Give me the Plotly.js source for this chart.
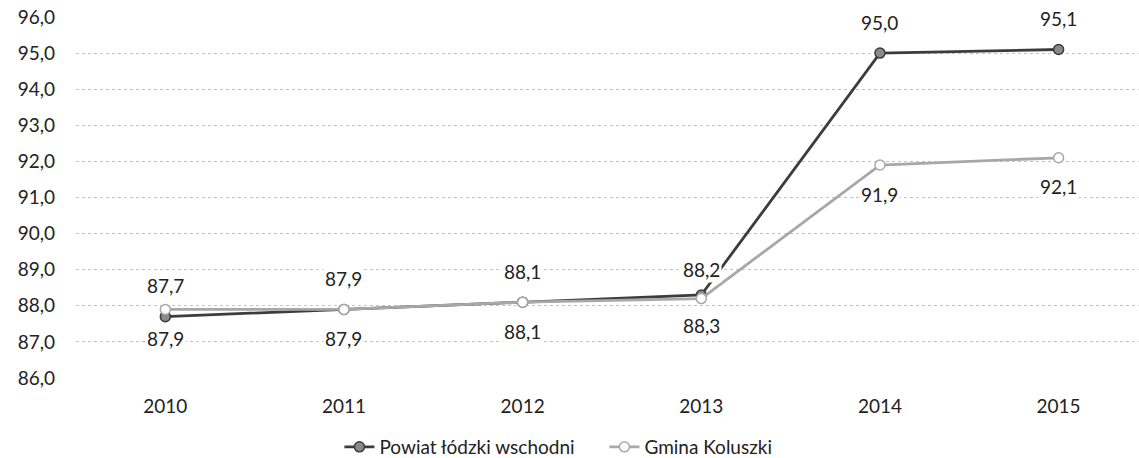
<!DOCTYPE html>
<html>
<head>
<meta charset="utf-8">
<script src="https://cdn.plot.ly/plotly-3.0.1.min.js"></script>
<style>
  html, body { margin: 0; padding: 0; background: #fff; }
  #chart { width: 1139px; height: 458px; }
</style>
</head>
<body>
<div id="chart"></div>
<script>
// Dane
const years = ['2010', '2011', '2012', '2013', '2014', '2015'];
const powiat = [87.7, 87.9, 88.1, 88.3, 95.0, 95.1];
const gmina = [87.9, 87.9, 88.1, 88.2, 91.9, 92.1];
// położenie etykiet: +1 nad punktem, -1 pod punktem
const powiatLabelSide = [1, 1, 1, -1, 1, 1];
const gminaLabelSide = [-1, -1, -1, 1, -1, -1];

const FONT = 'Lato, "Open Sans", sans-serif';
const DARK = '#3c3c3c';
const LIGHT = '#a8a8a8';

const fmt = (v) => v.toFixed(1).replace('.', ',');

const traces = [
  {
    x: years, y: powiat, mode: 'lines+markers', name: 'Powiat łódzki wschodni',
    line: { color: DARK, width: 2.8 },
    marker: { symbol: 'circle', size: 10, color: '#8a8a8a', line: { color: DARK, width: 1.5 } },
  },
  {
    x: years, y: gmina, mode: 'lines+markers', name: 'Gmina Koluszki',
    line: { color: LIGHT, width: 2.8 },
    marker: { symbol: 'circle', size: 10, color: '#ffffff', line: { color: LIGHT, width: 1.5 } },
  },
];

// etykiety danych jako adnotacje (x = indeks kategorii na osi)
const labels = [];
years.forEach((yr, i) => {
  labels.push({ x: i, y: powiat[i], text: fmt(powiat[i]), yshift: 31 * powiatLabelSide[i] });
  labels.push({ x: i, y: gmina[i], text: fmt(gmina[i]), yshift: 29 * gminaLabelSide[i] });
});
labels.forEach((a) => {
  a.xref = 'x'; a.yref = 'y'; a.showarrow = false;
  a.font = { family: FONT, size: 19, color: '#222' };
  a.bgcolor = '#fff';
});

const layout = {
  width: 1139, height: 458,
  margin: { l: 76, r: 0, t: 17, b: 80 },
  paper_bgcolor: '#fff', plot_bgcolor: '#fff',
  font: { family: FONT, size: 19, color: '#222' },
  separators: ', ',
  xaxis: {
    type: 'category', range: [-0.5, 5.45],
    showgrid: false, zeroline: false, showline: false, ticks: '',
    ticklabelstandoff: 15,
    tickfont: { family: FONT, size: 19, color: '#222' },
  },
  yaxis: {
    range: [86, 96], dtick: 1, tick0: 86, tickformat: '.1f',
    showgrid: true, gridcolor: '#c4c4c4', griddash: 'dot', gridwidth: 1,
    zeroline: false, showline: false, ticks: '',
    ticklabelstandoff: 20,
    tickfont: { family: FONT, size: 19, color: '#222' },
  },
  showlegend: true,
  legend: {
    orientation: 'h', xref: 'container', yref: 'container',
    x: 0.298, xanchor: 'left', y: 0.024, yanchor: 'middle',
    font: { family: FONT, size: 19, color: '#222' },
    entrywidth: 220, entrywidthmode: 'pixels',
    tracegroupgap: 0,
  },
  annotations: labels,
};

Plotly.newPlot('chart', traces, layout, { displayModeBar: false, staticPlot: true });
</script>
</body>
</html>
